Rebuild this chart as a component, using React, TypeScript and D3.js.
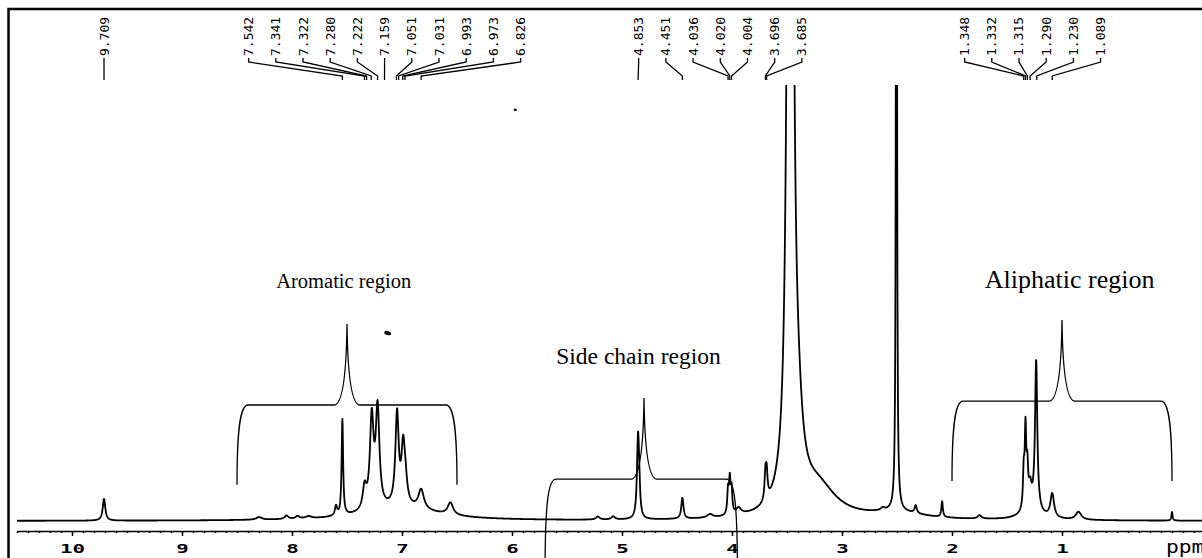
import React, { useEffect, useRef } from 'react';
import * as d3 from 'd3';

// peaks: [shift (ppm), height (% of plot), half width (ppm)]
const minorPeaks = [
  [9.709, 5.0, 0.014],
  [8.3, 0.6, 0.03],
  [8.05, 0.8, 0.02],
  [7.95, 0.6, 0.02],
  [7.85, 0.5, 0.03],
  [5.22, 0.7, 0.02],
  [5.08, 0.7, 0.02],
  [4.2, 0.8, 0.03],
  [2.63, 0.6, 0.02],
  [2.33, 1.8, 0.012],
  [2.09, 3.6, 0.008],
  [1.75, 0.8, 0.02],
  [0.85, 1.8, 0.03],
  [0.0, 2.0, 0.006],
];

const aromaticPeaks = [
  [7.6, 2.2, 0.012],
  [7.542, 22, 0.008],
  [7.34, 5, 0.02],
  [7.275, 20.5, 0.02],
  [7.222, 22.5, 0.02],
  [7.045, 21, 0.018],
  [6.99, 12, 0.018],
  [6.97, 5, 0.02],
  [6.826, 4.5, 0.03],
  [6.56, 2.8, 0.03],
  [7.0, 2.8, 0.4],
];

const sideChainPeaks = [
  [4.855, 17, 0.011],
  [4.845, 6, 0.01],
  [4.451, 4.8, 0.012],
  [4.036, 5.5, 0.008],
  [4.02, 7.5, 0.008],
  [4.004, 5.5, 0.008],
  [3.94, 1.5, 0.03],
  [3.696, 5.5, 0.01],
  [3.685, 5.5, 0.01],
];

// water and DMSO, both run off the top
const solventPeaks = [
  [3.47, 420, 0.02],
  [3.4, 12, 0.05],
  [3.22, 7, 0.2],
  [2.505, 330, 0.004],
  [2.5, 1.5, 0.3],
];

const aliphaticPeaks = [
  [1.348, 8, 0.008],
  [1.332, 17.5, 0.008],
  [1.315, 8, 0.008],
  [1.29, 4, 0.015],
  [1.28, 3, 0.08],
  [1.235, 34, 0.012],
  [1.089, 5.5, 0.02],
];

const ppmTicks = [10, 9, 8, 7, 6, 5, 4, 3, 2, 1];

const shiftLabels = [
  ['9.709'],
  ['7.542', '7.341', '7.322', '7.280', '7.222', '7.159', '7.051', '7.031', '6.993', '6.973', '6.826'],
  ['4.853', '4.451', '4.036', '4.020', '4.004', '3.696', '3.685'],
  ['1.348', '1.332', '1.315', '1.290', '1.230', '1.089'],
];

const regionNames = ['Aromatic region', 'Side chain region', 'Aliphatic region'];
const regionSpans = [[8.5, 6.5], [5.7, 3.95], [2.0, 0.0]];
const regionTips = [7.5, 4.8, 1.0];
const regionLevels = [26.6, 9.6, 27.5];
const regionEnds = [8.3, -13, 9.2];
const regionLabelPpm = [7.53, 4.85, 0.93];
const regionLabelLevels = [53.4, 36.0, 53.4];

// scanner specks: [ppm, intensity]
const specks = [
  [7.13, 43.1],
  [5.97, 94.3],
];

const NmrSpectrum = () => {
  const ref = useRef(null);

  useEffect(() => {
    const svg = d3.select(ref.current);
    svg.selectAll('*').remove();

    const width = 1202;
    const height = 558;
    const axisY = 531;

    const x = d3.scaleLinear().domain([10.5, -0.27]).range([17, 1201.7]);
    const y = d3.scaleLinear().domain([0, 100]).range([521, 85]);

    svg.append('rect').attr('width', width).attr('height', height).attr('fill', '#fff');

    // frame
    svg
      .append('rect')
      .attr('x', 8.5)
      .attr('y', 9)
      .attr('width', 1300)
      .attr('height', 700)
      .attr('fill', 'none')
      .attr('stroke', '#000')
      .attr('stroke-width', 2.5);

    // spectrum
    const allPeaks = [...minorPeaks, ...aromaticPeaks, ...sideChainPeaks, ...solventPeaks, ...aliphaticPeaks];
    const grid = d3.range(10.5, -0.3, -0.002);
    const trace = grid.map((p) => [
      p,
      d3.sum(allPeaks, ([c, h, w]) => (h * w * w) / (w * w + (p - c) * (p - c))),
    ]);

    svg
      .append('clipPath')
      .attr('id', 'plot-clip')
      .append('rect')
      .attr('x', 17)
      .attr('y', 85)
      .attr('width', 1190)
      .attr('height', 460);

    svg
      .append('path')
      .datum(trace)
      .attr('clip-path', 'url(#plot-clip)')
      .attr('fill', 'none')
      .attr('stroke', '#000')
      .attr('stroke-width', 1.8)
      .attr('stroke-linejoin', 'round')
      .attr(
        'd',
        d3
          .line()
          .x((d) => x(d[0]))
          .y((d) => y(d[1]))
      );

    // axis
    const minor = svg
      .append('g')
      .attr('transform', `translate(0,${axisY})`)
      .call(
        d3
          .axisBottom(x)
          .tickValues(d3.range(-2, 106).map((v) => v / 10))
          .tickSize(2)
          .tickFormat(() => '')
      );
    minor.select('.domain').remove();
    minor.selectAll('line').attr('stroke-width', 1.5);

    const major = svg
      .append('g')
      .attr('transform', `translate(0,${axisY})`)
      .call(d3.axisBottom(x).tickValues(ppmTicks).tickSize(5).tickSizeOuter(0).tickFormat(d3.format('d')));
    major.select('.domain').attr('stroke-width', 1.5);
    major.selectAll('line').attr('stroke-width', 1.5);
    major
      .selectAll('text')
      .attr('y', 22)
      .attr('dy', null)
      .attr('fill', '#000')
      .attr('font-family', 'DejaVu Sans Mono, monospace')
      .attr('font-weight', 'bold')
      .attr('font-size', 13)
      .attr('transform', 'scale(1.6,1)');

    svg
      .append('text')
      .attr('transform', `translate(1166,553) scale(1.25,1)`)
      .attr('font-family', 'DejaVu Sans Mono, monospace')
      .attr('font-size', 17)
      .text('ppm');

    // shift labels along the top
    const gap = 27.2;
    shiftLabels.forEach((group) => {
      const targets = group.map((s) => x(+s));
      const mid = d3.mean(targets);
      group.forEach((s, i) => {
        const lx = mid + (i - (group.length - 1) / 2) * gap;
        const tx = targets[i];
        svg
          .append('text')
          .attr('transform', `translate(${lx + 4.5},56) rotate(-90)`)
          .attr('font-family', 'DejaVu Sans Mono, monospace')
          .attr('font-size', 13)
          .text(s);
        svg
          .append('path')
          .attr('d', `M${lx},58L${lx},62L${tx},76L${tx},80`)
          .attr('fill', 'none')
          .attr('stroke', '#000')
          .attr('stroke-width', 1.3);
      });
    });

    // region brackets
    const labelSizes = [20.5, 23.5, 26];
    regionNames.forEach((name, i) => {
      const xl = x(regionSpans[i][0]);
      const xr = x(regionSpans[i][1]);
      const xt = x(regionTips[i]);
      const yl = y(regionLevels[i]);
      const ye = y(regionEnds[i]);
      const yt = y(regionLevels[i] + 18.6);
      const c = 11;
      const s = 13;
      const d = `M${xl},${ye}C${xl},${yl + 25} ${xl + 3},${yl} ${xl + c},${yl}
        L${xt - s},${yl}Q${xt - 1},${yl} ${xt},${yt}Q${xt + 1},${yl} ${xt + s},${yl}
        L${xr - c},${yl}C${xr - 3},${yl} ${xr},${yl + 25} ${xr},${ye}`;
      svg
        .append('path')
        .attr('d', d)
        .attr('fill', 'none')
        .attr('stroke', '#000')
        .attr('stroke-width', 1.3);
      svg
        .append('text')
        .attr('x', x(regionLabelPpm[i]))
        .attr('y', y(regionLabelLevels[i]))
        .attr('text-anchor', 'middle')
        .attr('font-family', 'Liberation Serif, Times New Roman, serif')
        .attr('font-size', labelSizes[i])
        .text(name);
    });

    svg
      .selectAll('.speck')
      .data(specks)
      .enter()
      .append('ellipse')
      .attr('class', 'speck')
      .attr('cx', (d) => x(d[0]))
      .attr('cy', (d) => y(d[1]))
      .attr('rx', (d, i) => (i === 0 ? 3.5 : 1.6))
      .attr('ry', (d, i) => (i === 0 ? 2 : 1.2))
      .attr('transform', (d) => `rotate(15,${x(d[0])},${y(d[1])})`)
      .attr('fill', '#000');
  }, []);

  return (
    <svg
      ref={ref}
      width={1202}
      height={558}
      style={{ position: 'absolute', left: 0, top: 0, display: 'block' }}
    />
  );
};

export default function App() {
  return <NmrSpectrum />;
}
